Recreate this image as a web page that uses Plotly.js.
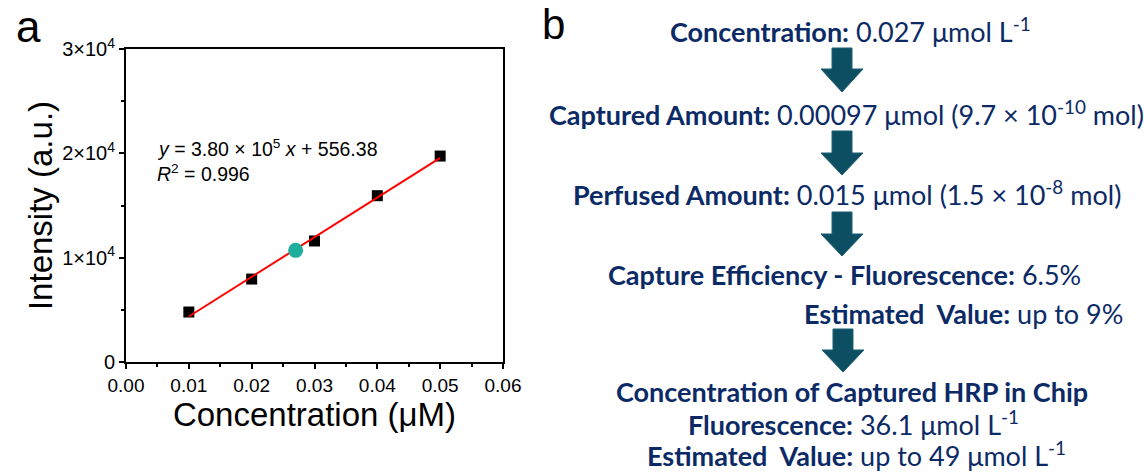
<!DOCTYPE html>
<html>
<head>
<meta charset="utf-8">
<script src="https://cdn.plot.ly/plotly-3.0.1.min.js"></script>
<style>html,body{margin:0;padding:0;background:#fff;}#chart{width:1144px;height:472px;}</style>
</head>
<body>
<div id="chart"></div>
<script>
// ---- data (panel a) ----
const concentration = [0.01, 0.02, 0.03, 0.04, 0.05];
const intensity = [4790, 7950, 11600, 15940, 19740];
const sampleConcentration = [0.027];
const sampleIntensity = [10700];
const fitConcentration = [0.01, 0.05];
const fitIntensity = [4360, 19560];
const xTickVals = [0, 0.01, 0.02, 0.03, 0.04, 0.05, 0.06];
const xTickText = ['0.00', '0.01', '0.02', '0.03', '0.04', '0.05', '0.06'];
const yTickVals = [0, 10000, 20000, 30000];
const yTickText = ['0', '1×10<sup>4</sup>', '2×10<sup>4</sup>', '3×10<sup>4</sup>'];
const fitText = ['<i>y</i> = 3.80 × 10<sup>5</sup> <i>x</i> + 556.38', '<i>R</i><sup>2</sup> = 0.996'];

// ---- texts (panel b) ----
const flowLabels = [
  '<b>Concentration:</b> 0.027 μmol L<sup>-1</sup>',
  '<b>Captured Amount:</b> 0.00097 μmol (9.7 × 10<sup>-10</sup> mol)',
  '<b>Perfused Amount:</b> 0.015 μmol (1.5 × 10<sup>-8</sup> mol)',
  '<b>Capture Efficiency - Fluorescence:</b> 6.5%',
  '<b>Estimated\u00a0 Value:</b> up to 9%',
  '<b>Concentration of Captured HRP in Chip</b>',
  '<b>Fluorescence:</b> 36.1 μmol L<sup>-1</sup>',
  '<b>Estimated\u00a0 Value:</b> up to 49 μmol L<sup>-1</sup>'
];

// ---- geometry helpers (pixel -> paper) ----
const W = 1144, H = 472;
const PL = 126, PR = 503, PT = 49, PB = 362;
const px = x => (x - PL) / (PR - PL);
const py = y => (PB - y) / (PB - PT);

const flowPos = [[850, 30], [846, 113], [847, 193], [844, 274], [963, 313], [852, 391], [853, 423], [856, 454]];
const arrowPos = [[842, 48, 69, 92], [842, 131, 153, 175], [842, 212, 234, 256], [843, 329, 350, 372]];

const arrowColor = '#0c4f63';
const textBlue = '#0b2a66';

const shapes = arrowPos.map(([cx, top, hs, tip]) => {
  const sw = 10, hw = 21;
  const pts = [[cx - sw, top], [cx + sw, top], [cx + sw, hs], [cx + hw, hs], [cx, tip], [cx - hw, hs], [cx - sw, hs]];
  const d = 'M' + pts.map(p => px(p[0]).toFixed(5) + ',' + py(p[1]).toFixed(5)).join(' L') + ' Z';
  return {type: 'path', xref: 'paper', yref: 'paper', path: d, fillcolor: arrowColor,
          line: {color: '#1d5f72', width: 1}, layer: 'above'};
});

const annotations = [];
flowLabels.forEach((t, i) => {
  annotations.push({text: t, xref: 'paper', yref: 'paper', x: px(flowPos[i][0]), y: py(flowPos[i][1]),
    xanchor: 'center', yanchor: 'middle', showarrow: false,
    font: {family: 'Lato, "Noto Sans", sans-serif', size: 27, color: textBlue}});
});
annotations.push({text: fitText[0], xref: 'paper', yref: 'paper', x: px(155), y: py(148), xanchor: 'left', yanchor: 'middle',
  showarrow: false, font: {family: '"Liberation Sans", Arial, sans-serif', size: 19.5, color: '#000'}});
annotations.push({text: fitText[1], xref: 'paper', yref: 'paper', x: px(155), y: py(173), xanchor: 'left', yanchor: 'middle',
  showarrow: false, font: {family: '"Liberation Sans", Arial, sans-serif', size: 19.5, color: '#000'}});
annotations.push({text: 'a', xref: 'paper', yref: 'paper', x: px(28), y: py(27), xanchor: 'center', yanchor: 'middle',
  showarrow: false, font: {family: '"Liberation Sans", Arial, sans-serif', size: 44, color: '#000'}});
annotations.push({text: 'b', xref: 'paper', yref: 'paper', x: px(553), y: py(25), xanchor: 'center', yanchor: 'middle',
  showarrow: false, font: {family: '"Liberation Sans", Arial, sans-serif', size: 42, color: '#000'}});

const traces = [
  {x: concentration, y: intensity, type: 'scatter', mode: 'markers',
   marker: {symbol: 'square', size: 11, color: '#000'}, hoverinfo: 'x+y'},
  {x: fitConcentration, y: fitIntensity, type: 'scatter', mode: 'lines',
   line: {color: '#ff0000', width: 2}},
  {x: sampleConcentration, y: sampleIntensity, type: 'scatter', mode: 'markers',
   marker: {symbol: 'circle', size: 15, color: '#1fae9c'}}
];

const axisFont = '"Liberation Sans", Arial, sans-serif';
const layout = {
  width: W, height: H,
  margin: {l: PL, r: W - PR, t: PT, b: H - PB},
  paper_bgcolor: '#fff', plot_bgcolor: '#fff',
  showlegend: false,
  font: {family: axisFont, color: '#000'},
  xaxis: {
    range: [0, 0.06], tickvals: xTickVals, ticktext: xTickText, tickmode: 'array',
    ticks: 'outside', ticklen: 5, tickwidth: 2, tickcolor: '#000',
    showline: true, linewidth: 2, linecolor: '#000', mirror: true,
    showgrid: false, zeroline: false, automargin: false,
    tickfont: {size: 19, family: axisFont, color: '#000'},
    minor: {ticks: 'outside', ticklen: 3, tickwidth: 2, tickcolor: '#000', dtick: 0.005, tick0: 0, showgrid: false},
    title: {text: 'Concentration (μM)', font: {size: 33, family: axisFont}, standoff: 0}
  },
  yaxis: {
    range: [0, 30000], tickvals: yTickVals, ticktext: yTickText, tickmode: 'array',
    ticks: 'outside', ticklen: 5, tickwidth: 2, tickcolor: '#000',
    showline: true, linewidth: 2, linecolor: '#000', mirror: true,
    showgrid: false, zeroline: false, automargin: false,
    tickfont: {size: 20, family: axisFont, color: '#000'},
    minor: {ticks: 'outside', ticklen: 3, tickwidth: 2, tickcolor: '#000', dtick: 5000, tick0: 0, showgrid: false},
    title: {text: 'Intensity (a.u.)', font: {size: 33, family: axisFont}, standoff: 0}
  },
  shapes: shapes,
  annotations: annotations
};

Plotly.newPlot('chart', traces, layout, {staticPlot: true, displayModeBar: false});
</script>
</body>
</html>
